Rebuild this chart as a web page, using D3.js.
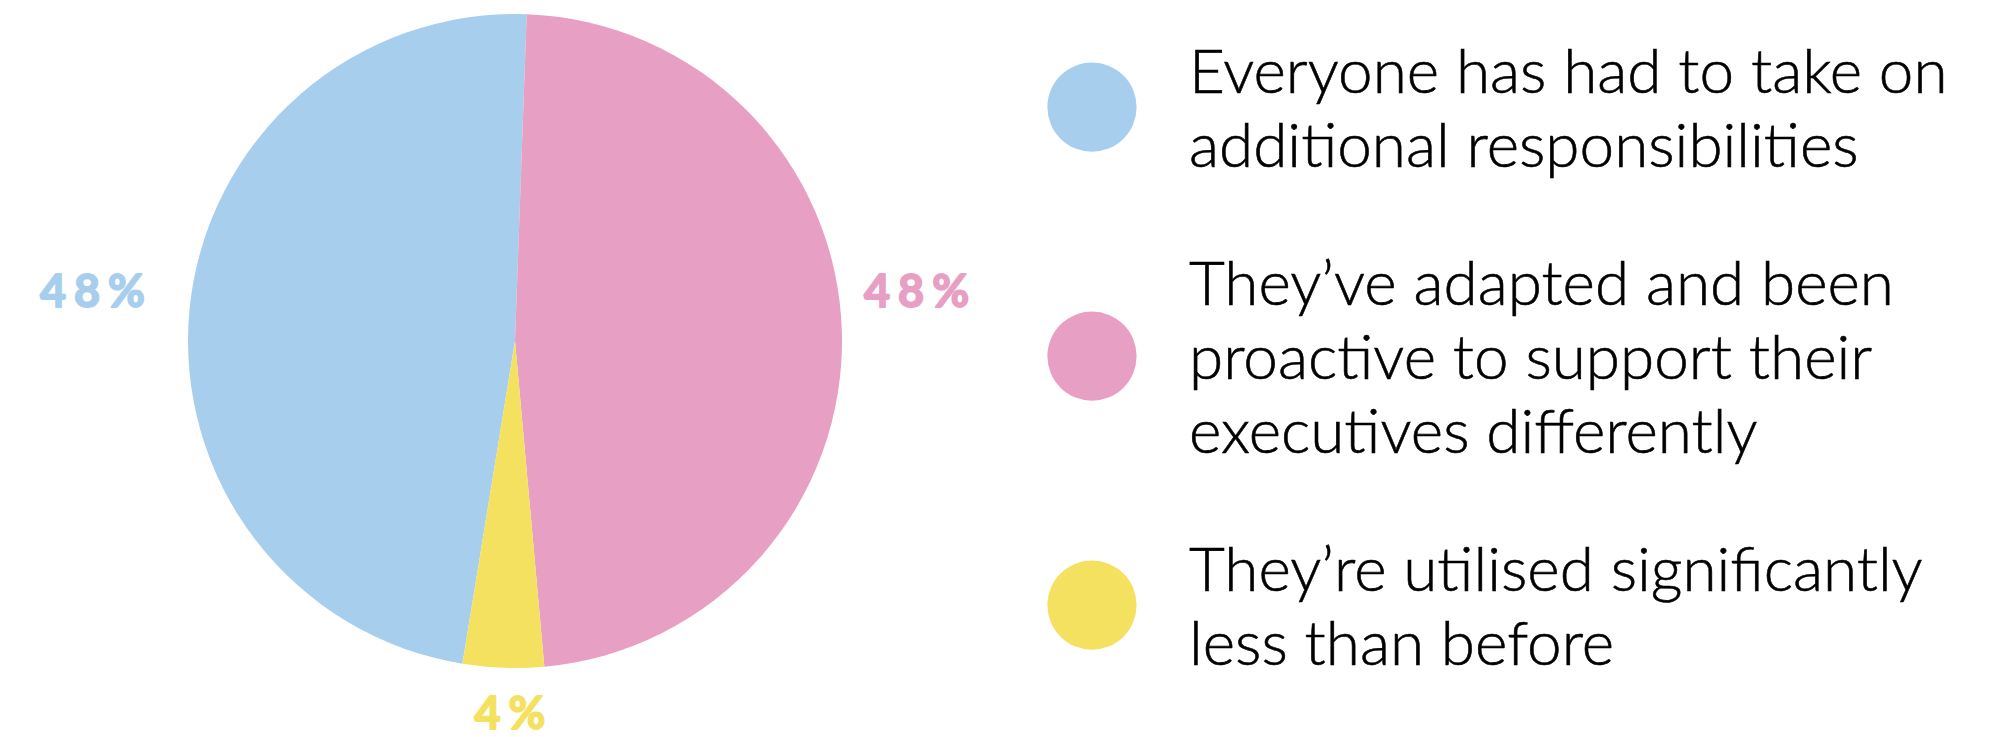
<!DOCTYPE html>
<html>
<head>
<meta charset="utf-8">
<script src="https://cdn.jsdelivr.net/npm/d3@7"></script>
<style>
  html, body { margin: 0; padding: 0; background: #ffffff; }
  svg { display: block; }
</style>
</head>
<body>
<svg id="chart" width="2013" height="737"></svg>
<script>
// ---- data ----
const categories = [
  "Everyone has had to take on\nadditional responsibilities",
  "They\u2019ve adapted and been\nproactive to support their\nexecutives differently",
  "They\u2019re utilised significantly\nless than before"
];
const values = [48, 48, 4];
const valueLabels = ["48%", "48%", "4%"];
const colors = ["#A8CEEE", "#E89FC4", "#F5E160"];

// ---- layout ----
const W = 2013, H = 737;
const cx = 515, cy = 341, R = 327;
const svg = d3.select("#chart");

const pie = d3.pie().sort(null).value(d => d)
  .startAngle(-170.75 * Math.PI / 180)
  .endAngle((360 - 170.75) * Math.PI / 180);
const arcs = pie(values);
const arc = d3.arc().innerRadius(0).outerRadius(R);

const g = svg.append("g").attr("transform", `translate(${cx},${cy})`);
g.selectAll("path.slice").data(arcs).join("path")
  .attr("class", "slice")
  .attr("d", arc)
  .attr("fill", (d, i) => colors[i]);

// percentage labels placed by side of the slice mid-angle
const labelFont = "Lato, 'DejaVu Sans', sans-serif";
const ls = 8;
arcs.forEach((d, i) => {
  const mid = (d.startAngle + d.endAngle) / 2;
  const s = Math.sin(mid), c = -Math.cos(mid);
  let x, y, anchor;
  if (Math.abs(s) > Math.abs(c)) {
    if (s < 0) { x = -R - 43; anchor = "end"; }
    else { x = R + 22; anchor = "start"; }
    y = -34;
  } else {
    x = -5; y = R + 61; anchor = "middle";
  }
  const t = g.append("text")
    .attr("x", x).attr("y", y)
    .attr("fill", colors[i])
    .attr("font-family", labelFont)
    .attr("font-weight", 700)
    .attr("font-size", 45)
    .attr("letter-spacing", ls)
    .attr("stroke", colors[i])
    .attr("stroke-width", 1.8)
    .attr("stroke-linejoin", "round")
    .text(valueLabels[i]);
  const w = t.node().getComputedTextLength();
  if (anchor === "end") t.attr("x", x - w + ls);
  else if (anchor === "middle") t.attr("x", x - (w - ls) / 2);
});

// legend
const legendFont = "Lato, 'Open Sans', sans-serif";
const lineH = 74, groupGap = 64, firstBaseline = 92.6;
const legX = 1092, legR = 44.6, textX = 1189, fontSize = 62;
let baseline = firstBaseline;
categories.forEach((label, i) => {
  const lines = label.split("\n");
  const top = baseline - 45;
  const bottom = baseline + (lines.length - 1) * lineH;
  const mid = (top + bottom) / 2;
  svg.append("circle").attr("cx", legX).attr("cy", mid).attr("r", legR).attr("fill", colors[i]);
  const t = svg.append("text")
    .attr("font-family", legendFont)
    .attr("font-weight", 300)
    .attr("font-size", fontSize)
    .attr("fill", "#000")
    .attr("stroke", "#000")
    .attr("stroke-width", 0.6);
  lines.forEach((ln, j) => {
    t.append("tspan").attr("x", textX).attr("y", baseline + j * lineH).text(ln);
  });
  baseline += lines.length * lineH + groupGap;
});
</script>
</body>
</html>
